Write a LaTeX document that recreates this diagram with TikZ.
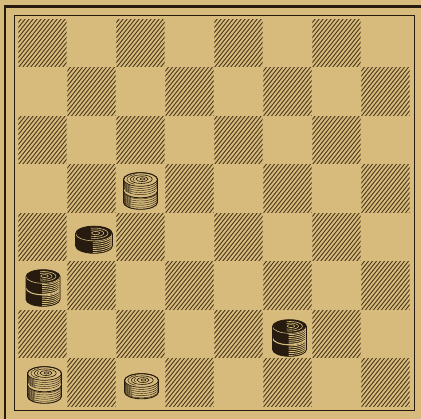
\documentclass[tikz,border=0pt]{standalone}
\definecolor{paper}{RGB}{214,187,125}
\definecolor{ink}{RGB}{38,27,14}
\definecolor{hatchc}{RGB}{80,59,30}
\newcommand\pieceW[1]{%
 \pgfmathsetmacro\hb{-#1*11.5}%
 \pgfmathtruncatemacro\nst{#1*6+2}%
 \fill[paper] (-17,0) -- (-17,\hb) arc[start angle=180,end angle=360,x radius=17,y radius=6.8] -- (17,0) arc[start angle=0,end angle=180,x radius=17,y radius=6.8] -- cycle;
 \begin{scope}
  \clip (-17,0) arc[start angle=180,end angle=360,x radius=17,y radius=6.8] -- (17,\hb) arc[start angle=360,end angle=180,x radius=17,y radius=6.8] -- cycle;
  \foreach \s in {1,...,\nst} {
   \draw[ink,line width=0.4] (-17,{-\s*2.1}) arc[start angle=180,end angle=360,x radius=17,y radius=6.8];
   \draw[ink,line width=0.4] (-17,{-\s*2.1+1.05}) arc[start angle=180,end angle=235,x radius=17,y radius=6.8];
  }
  \ifnum#1>1
   \draw[paper,line width=2.4] (-17,-10.3) arc[start angle=180,end angle=360,x radius=17,y radius=6.8];
   \draw[ink,line width=0.9] (-17,-11.5) arc[start angle=180,end angle=360,x radius=17,y radius=6.8];
  \fi
 \end{scope}
 \draw[ink,line width=0.9] (-17,0) -- (-17,\hb) arc[start angle=180,end angle=360,x radius=17,y radius=6.8] -- (17,0) arc[start angle=0,end angle=180,x radius=17,y radius=6.8] -- cycle;
 \draw[ink,line width=0.7] (0,0) ellipse[x radius=17,y radius=6.8];
 \draw[ink,line width=0.6] (0.8,0.3) ellipse[x radius=11,y radius=4.3];
 \draw[ink,line width=0.6] (1.5,0.4) ellipse[x radius=6,y radius=2.4];
 \draw[ink,line width=0.6] (2,0.5) ellipse[x radius=2.5,y radius=1];
 \begin{scope}
  \clip (-17,-8) rectangle (-6,8);
  \draw[ink,line width=0.45] (0.4,0.15) ellipse[x radius=14,y radius=5.5];
  \draw[ink,line width=0.45] (1.2,0.35) ellipse[x radius=8.5,y radius=3.3];
 \end{scope}
}
\newcommand\pieceB[1]{%
 \pgfmathsetmacro\hb{-#1*11.5}%
 \pgfmathtruncatemacro\nst{#1*6+3}%
 \fill[ink] (-17,0) -- (-17,\hb) arc[start angle=180,end angle=360,x radius=17,y radius=6.8] -- (17,0) arc[start angle=0,end angle=180,x radius=17,y radius=6.8] -- cycle;
 \begin{scope}
  \clip (-17,0) arc[start angle=180,end angle=360,x radius=17,y radius=6.8] -- (17,\hb) arc[start angle=360,end angle=180,x radius=17,y radius=6.8] -- cycle;
  \begin{scope}
   \clip (-1,8) rectangle (18,-40);
   \foreach \s in {1,...,\nst} {
    \draw[paper,line width=0.85] (-17,{-\s*1.9+0.6}) arc[start angle=180,end angle=360,x radius=17,y radius=6.8];
   }
  \end{scope}
  \ifnum#1>1
   \draw[paper,line width=1.1] (-17,-11.5) arc[start angle=180,end angle=360,x radius=17,y radius=6.8];
  \fi
 \end{scope}
 \draw[paper,line width=0.6] (-17,0) arc[start angle=180,end angle=360,x radius=17,y radius=6.8];
 \begin{scope}
  \clip (-3,8) rectangle (18,-8);
  \draw[paper,line width=0.6] (0.5,0.2) ellipse[x radius=12.5,y radius=4.8];
  \draw[paper,line width=0.6] (1,0.3) ellipse[x radius=8,y radius=3.1];
  \draw[paper,line width=0.6] (1.5,0.4) ellipse[x radius=3.8,y radius=1.5];
 \end{scope}
 \draw[ink,line width=0.8] (-17,0) -- (-17,\hb) arc[start angle=180,end angle=360,x radius=17,y radius=6.8] -- (17,0) arc[start angle=0,end angle=180,x radius=17,y radius=6.8] -- cycle;
}
\tikzset{
 pics/wpc/.style={code={\pieceW{#1}}},
 pics/bpc/.style={code={\pieceB{#1}}},
 hatchline/.style={hatchc,line width=0.9},
 frame/.style={ink,line width=1},
 thickframe/.style={ink,line width=2.4}
}
\begin{document}
\begin{tikzpicture}[x=1pt,y=1pt]
\useasboundingbox (0,0) rectangle (421,419);
\fill[paper] (0,0) rectangle (421,419);
% outer heavy rules
\draw[thickframe] (5,0) -- (5,412.5);
\draw[thickframe] (3.8,412.5) -- (421,412.5);
% inner frame
\draw[frame] (14,8) rectangle (414,403);
% hatched squares
\foreach \r in {0,...,7} {
 \foreach \c in {0,...,7} {
  \pgfmathtruncatemacro\pp{mod(\r+\c,2)}
  \ifnum\pp=0
   \begin{scope}
    \clip ({18.3+49*\c},{352-48.5*\r}) rectangle ++(48.2,47.5);
    \foreach \k in {-11,...,13} {
     \draw[hatchline] ({18+49*\c+4*\k},{351-48.5*\r}) -- ++(40,50);
    }
   \end{scope}
  \fi
 }
}
% pieces
\pic at (140.5,239.5) {wpc=2};
\pic[scale=1.08] at (94,185.5) {bpc=1};
\pic at (43,142.5) {bpc=2};
\pic at (289.5,92.5) {bpc=2};
\pic at (44.5,45.5) {wpc=2};
\pic at (141.5,38.5) {wpc=1};
\end{tikzpicture}
\end{document}
